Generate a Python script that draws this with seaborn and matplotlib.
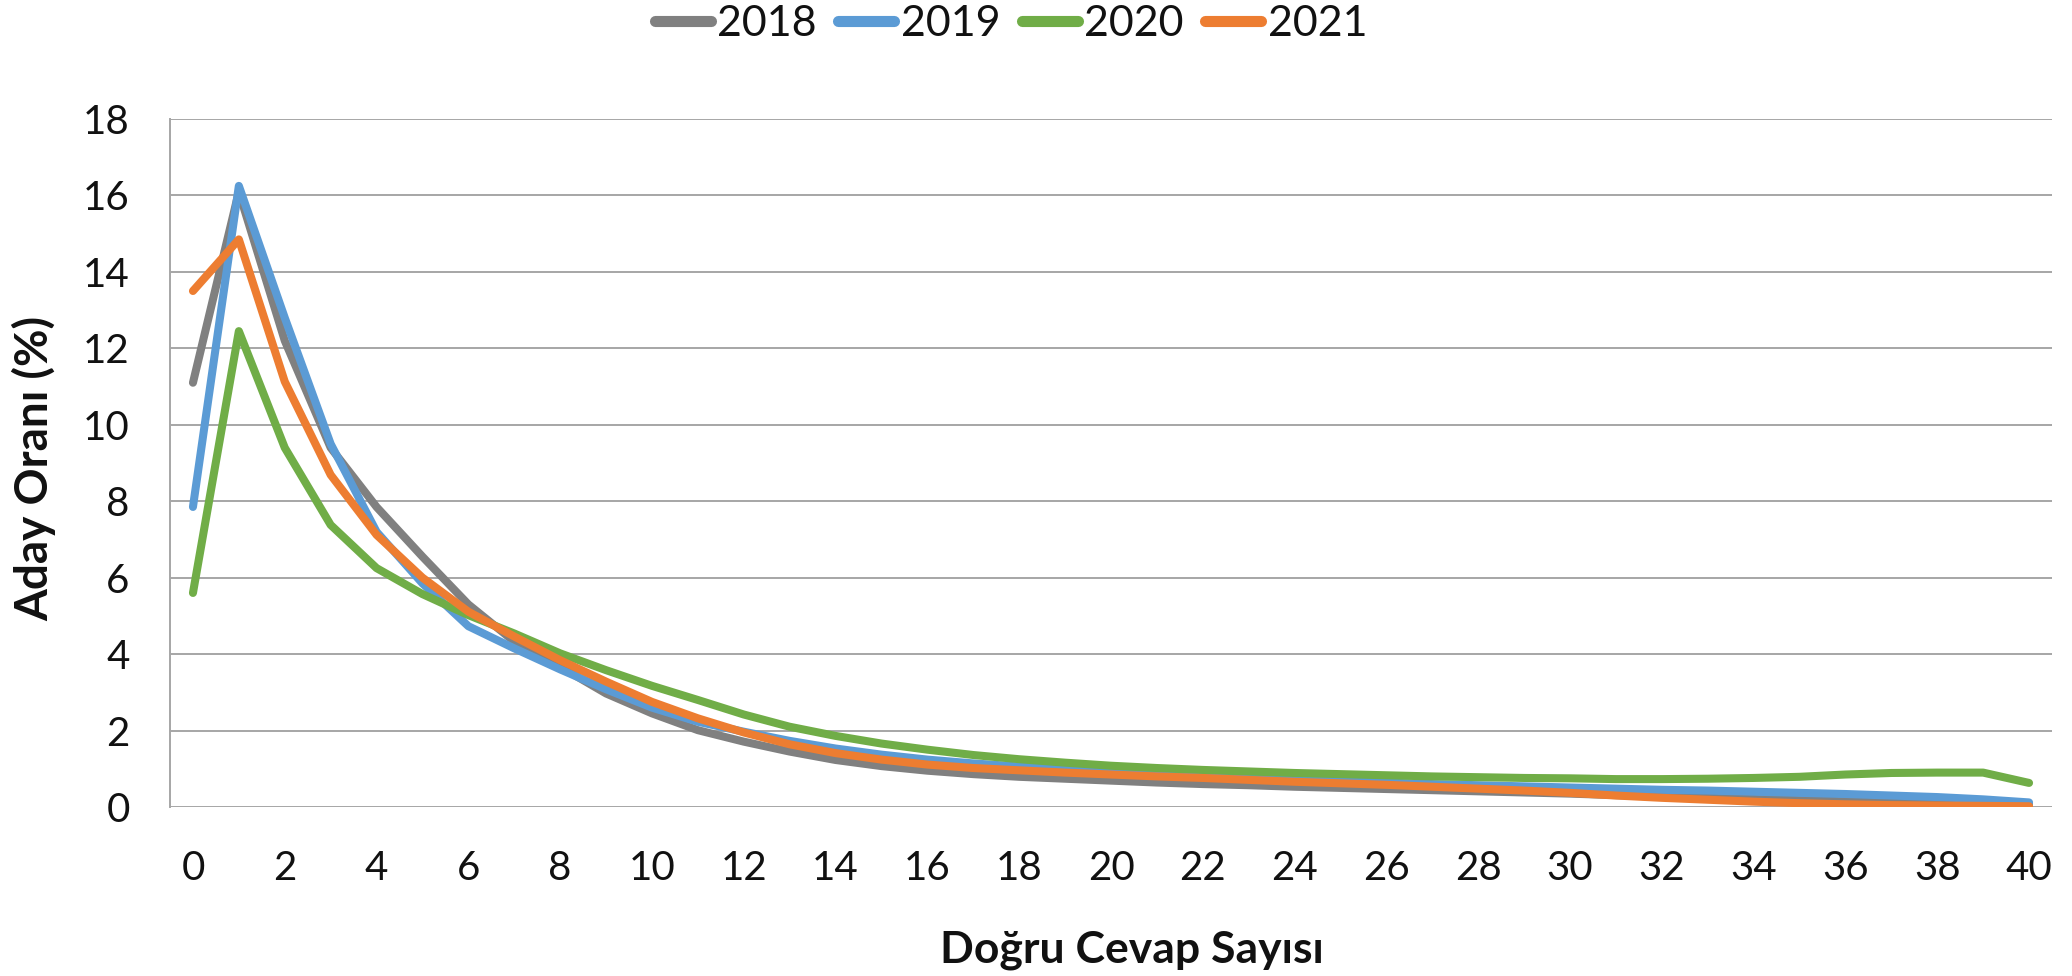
import numpy as np
import pandas as pd
import matplotlib
matplotlib.use("Agg")
import matplotlib.pyplot as plt
import seaborn as sns
from matplotlib.lines import Line2D

# ---- data ----
dogru_cevap = list(range(0, 41))
y2018 = [11.1, 16.1, 12.2, 9.4, 7.85, 6.55, 5.3, 4.33, 3.67, 2.97, 2.45, 2.01, 1.71, 1.45, 1.23,
         1.07, 0.95, 0.86, 0.79, 0.74, 0.69, 0.64, 0.6, 0.57, 0.53, 0.5, 0.47, 0.44, 0.41, 0.38,
         0.35, 0.31, 0.27, 0.24, 0.21, 0.18, 0.15, 0.13, 0.11, 0.09, 0.07]
y2019 = [7.85, 16.25, 12.8, 9.5, 7.2, 5.85, 4.73, 4.15, 3.6, 3.08, 2.6, 2.23, 1.97, 1.73, 1.53,
         1.37, 1.24, 1.14, 1.06, 0.98, 0.91, 0.85, 0.8, 0.76, 0.72, 0.68, 0.64, 0.6, 0.57, 0.54,
         0.51, 0.48, 0.45, 0.43, 0.4, 0.37, 0.34, 0.3, 0.26, 0.2, 0.12]
y2020 = [5.6, 12.45, 9.4, 7.38, 6.25, 5.57, 5.02, 4.54, 4.02, 3.58, 3.17, 2.8, 2.42, 2.1, 1.86,
         1.66, 1.5, 1.36, 1.25, 1.16, 1.08, 1.02, 0.97, 0.93, 0.89, 0.86, 0.83, 0.8, 0.78, 0.76,
         0.75, 0.73, 0.73, 0.74, 0.76, 0.79, 0.85, 0.89, 0.9, 0.9, 0.63]
y2021 = [13.5, 14.85, 11.13, 8.69, 7.12, 6.0, 5.11, 4.46, 3.84, 3.28, 2.75, 2.32, 1.95, 1.64, 1.41,
         1.24, 1.11, 1.02, 0.96, 0.9, 0.85, 0.8, 0.76, 0.71, 0.66, 0.62, 0.58, 0.53, 0.48, 0.43,
         0.37, 0.3, 0.24, 0.19, 0.14, 0.1, 0.07, 0.05, 0.04, 0.03, 0.02]
years = ["2018", "2019", "2020", "2021"]
colors = ["#808080", "#5B9BD5", "#70AD47", "#ED7D31"]
y_ticks = list(range(0, 19, 2))
x_ticks = list(range(0, 41, 2))

df = pd.concat([
    pd.DataFrame({"x": dogru_cevap, "y": vals, "Yil": yr})
    for yr, vals in zip(years, [y2018, y2019, y2020, y2021])
])

sns.set_style("white")
plt.rcParams["font.family"] = ["Lato", "DejaVu Sans"]

W, H = 2072, 976
fig = plt.figure(figsize=(W / 100, H / 100), dpi=100)
ax = fig.add_axes([170 / W, 1 - 807 / H, (2052 - 170) / W, (807 - 119) / H])

sns.lineplot(data=df, x="x", y="y", hue="Yil", palette=dict(zip(years, colors)),
             linewidth=5.8, ax=ax, legend=False, sort=False)
for ln in ax.get_lines():
    ln.set_solid_capstyle("round")
    ln.set_solid_joinstyle("round")

ax.set_xlim(-0.5, 40.5)
ax.set_ylim(0, 18)
ax.set_yticks(y_ticks)
ax.set_xticks(x_ticks)
ax.grid(axis="y", color="#A6A6A6", linewidth=1.4)
ax.grid(axis="x", visible=False)
ax.set_axisbelow(True)
for s in ["top", "right"]:
    ax.spines[s].set_visible(False)
ax.spines["bottom"].set_visible(False)
ax.spines["left"].set_color("#A6A6A6")
ax.spines["left"].set_linewidth(1.4)
ax.tick_params(axis="y", length=9, width=1.4, color="#A6A6A6", pad=20, labelsize=29, labelcolor="#111111")
ax.tick_params(axis="x", length=0, pad=31, labelsize=29, labelcolor="#111111")
ax.set_xlabel("")
ax.set_ylabel("")

fig.text(1132 / W, 1 - 950 / H, "Doğru Cevap Sayısı", ha="center", va="center",
         fontsize=32, fontweight="bold", color="#111111")
fig.text(34 / W, 1 - 468 / H, "Aday Oranı (%)", ha="center", va="center", rotation=90,
         fontsize=33, fontweight="bold", color="#111111")

handles = [Line2D([0], [0], color=c, linewidth=8, solid_capstyle="round") for c in colors]
leg = fig.legend(handles, years, loc="upper center", bbox_to_anchor=(0.488, 1.035), ncol=4,
                 frameon=False, fontsize=31, handlelength=1.3, handletextpad=0.15,
                 columnspacing=0.5)
for t in leg.get_texts():
    t.set_color("#111111")

fig.savefig("out.png", dpi=100)
